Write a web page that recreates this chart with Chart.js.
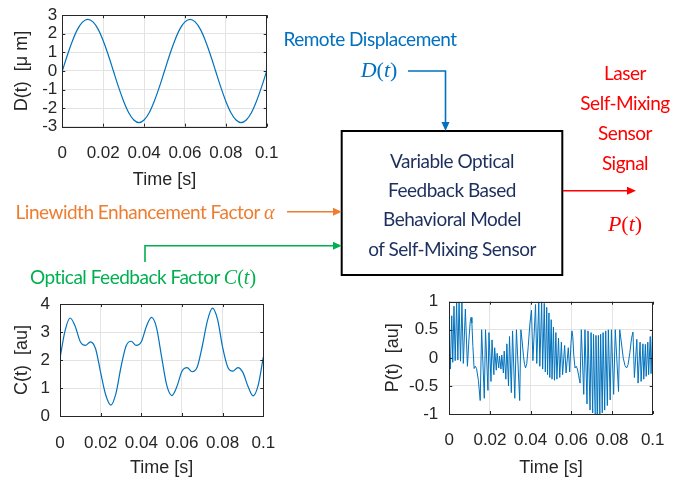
<!DOCTYPE html>
<html>
<head>
<meta charset="utf-8">
<script src="https://cdn.jsdelivr.net/npm/chart.js@4.4.1/dist/chart.umd.min.js"></script>
<style>
  body { margin: 0; background: #fff; }
  #page { position: relative; width: 678px; height: 481px; overflow: hidden; background: #fff; }
  canvas { position: absolute; }
  svg { position: absolute; left: 0; top: 0; }
  .lbl { position: absolute; transform: translate(-50%, -50%); white-space: nowrap; line-height: 1;
         font-family: Lato, "Open Sans", sans-serif; font-size: 19px; letter-spacing: -0.5px; }
  .math { font-family: "Liberation Serif", "DejaVu Serif", serif; font-size: 22px; letter-spacing: 0; }
  .math i { font-style: italic; }
</style>
</head>
<body>
<div id="page">
  <canvas id="dChart" width="280" height="195" style="left:0;top:0"></canvas>
  <canvas id="cChart" width="280" height="201" style="left:0;top:280px"></canvas>
  <canvas id="pChart" width="298" height="201" style="left:380px;top:280px"></canvas>

  <svg width="678" height="481">
    <rect x="341.7" y="131" width="220.6" height="144" fill="none" stroke="#000" stroke-width="2"/>
    <!-- D(t) input -->
    <polyline points="408,71 445.5,71 445.5,123" fill="none" stroke="#0070c0" stroke-width="1.6"/>
    <polygon points="441.5,122 449.5,122 445.5,131" fill="#0070c0"/>
    <!-- alpha input -->
    <line x1="287" y1="211.7" x2="334" y2="211.7" stroke="#ed7d31" stroke-width="1.6"/>
    <polygon points="333,207.7 333,215.7 341.7,211.7" fill="#ed7d31"/>
    <!-- C(t) input -->
    <polyline points="145,262 145,245.7 334,245.7" fill="none" stroke="#00b050" stroke-width="1.6"/>
    <polygon points="333,241.7 333,249.7 341.7,245.7" fill="#00b050"/>
    <!-- P(t) output -->
    <line x1="563" y1="190.7" x2="628" y2="190.7" stroke="#ff0000" stroke-width="1.6"/>
    <polygon points="627,186.7 627,194.7 636,190.7" fill="#ff0000"/>
  </svg>

  <div class="lbl" style="left:370px;top:38px;color:#0070c0">Remote Displacement</div>
  <div class="lbl math" style="left:379px;top:70px;color:#0070c0"><i>D</i>(<i>t</i>)</div>

  <div class="lbl" style="left:452px;top:160px;color:#1c2f5e">Variable Optical</div>
  <div class="lbl" style="left:452px;top:189px;color:#1c2f5e">Feedback Based</div>
  <div class="lbl" style="left:452px;top:218px;color:#1c2f5e">Behavioral Model</div>
  <div class="lbl" style="left:452px;top:248px;color:#1c2f5e">of Self-Mixing Sensor</div>

  <div class="lbl" style="left:625px;top:72px;color:#ff0000">Laser</div>
  <div class="lbl" style="left:625px;top:102px;color:#ff0000">Self-Mixing</div>
  <div class="lbl" style="left:625px;top:132px;color:#ff0000">Sensor</div>
  <div class="lbl" style="left:625px;top:162px;color:#ff0000">Signal</div>
  <div class="lbl math" style="left:625px;top:224px;color:#ff0000"><i>P</i>(<i>t</i>)</div>

  <div class="lbl" style="left:145px;top:212px;color:#ed7d31">Linewidth Enhancement Factor <span class="math" style="font-size:20px"><i>α</i></span></div>
  <div class="lbl" style="left:143px;top:277px;color:#00b050">Optical Feedback Factor <span class="math" style="font-size:20px"><i>C</i>(<i>t</i>)</span></div>
</div>

<script>
// time axis
const xTicks = [0, 0.02, 0.04, 0.06, 0.08, 0.1];
const xTickLabels = ['0', '0.02', '0.04', '0.06', '0.08', '0.1'];

// sample times for D(t) and C(t)
const tGrid = [0, 0.0025, 0.005, 0.0075, 0.01, 0.0125, 0.015, 0.0175, 0.02, 0.0225,
               0.025, 0.0275, 0.03, 0.0325, 0.035, 0.0375, 0.04, 0.0425, 0.045, 0.0475,
               0.05, 0.0525, 0.055, 0.0575, 0.06, 0.0625, 0.065, 0.0675, 0.07, 0.0725,
               0.075, 0.0775, 0.08, 0.0825, 0.085, 0.0875, 0.09, 0.0925, 0.095, 0.0975, 0.1];

// remote displacement D(t) [um]
const dValues = [0, 0.86, 1.63, 2.25, 2.64, 2.78, 2.64, 2.25, 1.63, 0.86,
                 0, -0.86, -1.63, -2.25, -2.64, -2.78, -2.64, -2.25, -1.63, -0.86,
                 0, 0.86, 1.63, 2.25, 2.64, 2.78, 2.64, 2.25, 1.63, 0.86,
                 0, -0.86, -1.63, -2.25, -2.64, -2.78, -2.64, -2.25, -1.63, -0.86, 0];
const dTicks = [-3, -2, -1, 0, 1, 2, 3];

// optical feedback factor C(t) [au]
const cValues = [2.06, 3.05, 3.5, 3.2, 2.65, 2.52, 2.65, 2.4, 1.55, 0.75,
                 0.39, 0.8, 1.75, 2.5, 2.67, 2.52, 2.65, 3.2, 3.52, 3.15,
                 2.1, 1.1, 0.73, 1.05, 1.6, 1.73, 1.58, 1.75, 2.5, 3.4,
                 3.85, 3.45, 2.45, 1.75, 1.6, 1.73, 1.55, 1.05, 0.72, 1.1, 2.1];
const cTicks = [0, 1, 2, 3, 4];

// self-mixing signal P(t) [au], fringe turning points
const pTimes = [
  0, 0.0005, 0.0012, 0.0017, 0.0023, 0.0029, 0.0036, 0.0042, 0.0048, 0.0055,
  0.0062, 0.0069, 0.0079, 0.0089, 0.0097, 0.0103, 0.0107, 0.0111, 0.0116, 0.0122,
  0.0128, 0.0134, 0.0143, 0.0152, 0.0159, 0.0172, 0.0178, 0.0190, 0.0195, 0.0205,
  0.0210, 0.0219, 0.0223, 0.0231, 0.0235, 0.0243, 0.0247, 0.0254, 0.0258, 0.0266,
  0.0270, 0.0278, 0.0283, 0.0291, 0.0296, 0.0305, 0.0311, 0.0322, 0.0330, 0.0346,
  0.0352, 0.0358, 0.0365, 0.0370, 0.0375, 0.0381, 0.0388, 0.0396, 0.0404, 0.0411,
  0.0424, 0.0430, 0.0440, 0.0445, 0.0454, 0.0459, 0.0467, 0.0472, 0.0479, 0.0483,
  0.0490, 0.0494, 0.0501, 0.0505, 0.0512, 0.0517, 0.0524, 0.0529, 0.0537, 0.0543,
  0.0551, 0.0557, 0.0567, 0.0574, 0.0585, 0.0592, 0.0598, 0.0603, 0.0607, 0.0612,
  0.0618, 0.0624, 0.0630, 0.0636, 0.0643, 0.0649, 0.0661, 0.0667, 0.0677, 0.0682,
  0.0692, 0.0697, 0.0705, 0.0709, 0.0717, 0.0721, 0.0729, 0.0733, 0.0740, 0.0744,
  0.0752, 0.0756, 0.0764, 0.0769, 0.0777, 0.0782, 0.0791, 0.0797, 0.0808, 0.0816,
  0.0832, 0.0838, 0.0845, 0.0855, 0.0864, 0.0872, 0.0879, 0.0888, 0.0896, 0.0903,
  0.0910, 0.0922, 0.0928, 0.0938, 0.0943, 0.0952, 0.0956, 0.0964, 0.0968, 0.0976,
  0.0980, 0.0988, 0.0992, 0.1
];
const pValues = [
  0.3, -0.2, 0.75, -0.08, 0.92, -0.05, 0.98, -0.04, 1.0, -0.06,
  0.98, -0.1, 0.87, -0.15, 0.35, 0.65, 0.72, 0.62, 0.2, -0.19,
  -0.15, -0.19, -0.4, -0.76, 0.5, -0.72, 0.5, -0.58, 0.45, -0.42,
  0.32, -0.3, 0.18, -0.22, 0.08, -0.18, 0.03, -0.2, 0.05, -0.27,
  0.12, -0.38, 0.25, -0.5, 0.38, -0.62, 0.48, -0.72, 0.5, -0.76,
  0.5, 0.3, 0.02, -0.12, -0.18, -0.1, 0.2, 0.6, 0.85, -0.05,
  0.95, -0.1, 1.0, -0.15, 1.0, -0.2, 0.97, -0.25, 0.9, -0.3,
  0.8, -0.35, 0.68, -0.38, 0.55, -0.4, 0.45, -0.38, 0.35, -0.35,
  0.28, -0.3, 0.22, -0.27, 0.18, -0.25, 0.25, 0.48, 0.38, 0.05,
  -0.18, -0.15, -0.2, -0.32, -0.45, 0.5, -0.65, 0.5, -0.82, 0.48,
  -0.93, 0.45, -0.98, 0.42, -1.0, 0.4, -1.0, 0.4, -1.0, 0.42,
  -0.98, 0.45, -0.93, 0.48, -0.85, 0.5, -0.75, 0.5, -0.65, 0.5,
  -0.6, 0.5, 0.3, 0.0, -0.14, -0.18, -0.12, 0.1, 0.35, 0.46,
  -0.35, 0.33, -0.45, 0.28, -0.42, 0.25, -0.38, 0.24, -0.33, 0.28,
  -0.3, 0.38, -0.28, 0.58
];
const pTicks = [-1, -0.5, 0, 0.5, 1];
const pTickLabels = ['-1', '-0.5', '0', '0.5', '1'];

const lineBlue = '#0072bd';
const axisColor = '#262626';
const gridColor = '#e3e3e3';
const tickFont = { family: '"Liberation Sans", Arial, sans-serif', size: 17 };
const titleFont = { family: '"Liberation Sans", Arial, sans-serif', size: 18 };

// MATLAB-style box with inward tick marks
const boxPlugin = {
  id: 'box',
  afterDatasetsDraw(chart) {
    const { ctx, chartArea: a, scales } = chart;
    ctx.save();
    ctx.strokeStyle = axisColor;
    ctx.lineWidth = 1;
    ctx.strokeRect(Math.round(a.left) + 0.5, Math.round(a.top) + 0.5,
                   Math.round(a.right - a.left), Math.round(a.bottom - a.top));
    ctx.beginPath();
    scales.x.ticks.forEach(t => {
      const x = Math.round(scales.x.getPixelForValue(t.value)) + 0.5;
      ctx.moveTo(x, a.bottom); ctx.lineTo(x, a.bottom - 3);
      ctx.moveTo(x, a.top); ctx.lineTo(x, a.top + 3);
    });
    scales.y.ticks.forEach(t => {
      const y = Math.round(scales.y.getPixelForValue(t.value)) + 0.5;
      ctx.moveTo(a.left, y); ctx.lineTo(a.left + 3, y);
      ctx.moveTo(a.right, y); ctx.lineTo(a.right - 3, y);
    });
    ctx.stroke();
    ctx.restore();
  }
};

function makeChart(id, points, cfg) {
  return new Chart(document.getElementById(id), {
    type: 'line',
    data: {
      datasets: [{
        data: points,
        borderColor: lineBlue,
        borderWidth: cfg.lineWidth || 1.2,
        pointRadius: 0,
        fill: false,
        cubicInterpolationMode: cfg.smooth ? 'monotone' : 'default',
        tension: 0
      }]
    },
    options: {
      responsive: false,
      animation: false,
      devicePixelRatio: 1,
      layout: { padding: { left: 0, right: cfg.padRight, top: cfg.padTop, bottom: 0 } },
      plugins: { legend: { display: false }, tooltip: { enabled: false } },
      scales: {
        x: {
          type: 'linear',
          min: 0,
          max: 0.1,
          afterBuildTicks: s => { s.ticks = xTicks.map(v => ({ value: v })); },
          afterFit: s => { s.height = cfg.xHeight; s.paddingLeft = 0; s.paddingRight = 0; },
          ticks: {
            color: axisColor,
            font: tickFont,
            padding: cfg.xTickPad,
            maxRotation: 0,
            autoSkip: false,
            callback: (v, i) => xTickLabels[i]
          },
          grid: { color: gridColor, drawTicks: false },
          border: { display: false },
          title: {
            display: true,
            text: 'Time [s]',
            color: axisColor,
            font: titleFont,
            padding: { top: 0, bottom: cfg.xTitlePad }
          }
        },
        y: {
          min: cfg.yTicks[0],
          max: cfg.yTicks[cfg.yTicks.length - 1],
          afterBuildTicks: s => { s.ticks = cfg.yTicks.map(v => ({ value: v })); },
          afterFit: s => { s.width = cfg.yWidth; },
          ticks: {
            color: axisColor,
            font: tickFont,
            padding: cfg.yTickPad,
            autoSkip: false,
            callback: (v, i) => cfg.yLabels ? cfg.yLabels[i] : String(cfg.yTicks[i])
          },
          grid: { color: gridColor, drawTicks: false },
          border: { display: false },
          title: {
            display: true,
            text: cfg.yTitle,
            color: axisColor,
            font: titleFont,
            padding: { top: cfg.yTitlePad, bottom: 0 }
          }
        }
      }
    },
    plugins: [boxPlugin]
  });
}

document.addEventListener('DOMContentLoaded', function() {
  makeChart('dChart', tGrid.map((t, i) => ({ x: t, y: dValues[i] })), {
    smooth: true, yTicks: dTicks, yTitle: 'D(t)  [\u03bc m]',
    padRight: 13.3, padTop: 15, xHeight: 68.3, yWidth: 62.3,
    xTickPad: 16, xTitlePad: 4.2, yTickPad: 5, yTitlePad: 11
  });
  makeChart('cChart', tGrid.map((t, i) => ({ x: t, y: cValues[i] })), {
    smooth: true, yTicks: cTicks, yTitle: 'C(t)  [au]',
    padRight: 16.7, padTop: 24, xHeight: 65, yWidth: 60,
    xTickPad: 16.8, xTitlePad: 2.2, yTickPad: 10, yTitlePad: 11
  });
  makeChart('pChart', pTimes.map((t, i) => ({ x: t, y: pValues[i] })), {
    smooth: false, yTicks: pTicks, yLabels: pTickLabels, yTitle: 'P(t)  [au]',
    padRight: 25.3, padTop: 21.7, xHeight: 67, yWidth: 69.3,
    xTickPad: 16, xTitlePad: 2.4, yTickPad: 11, yTitlePad: 2.5, lineWidth: 1
  });
});
</script>
</body>
</html>
